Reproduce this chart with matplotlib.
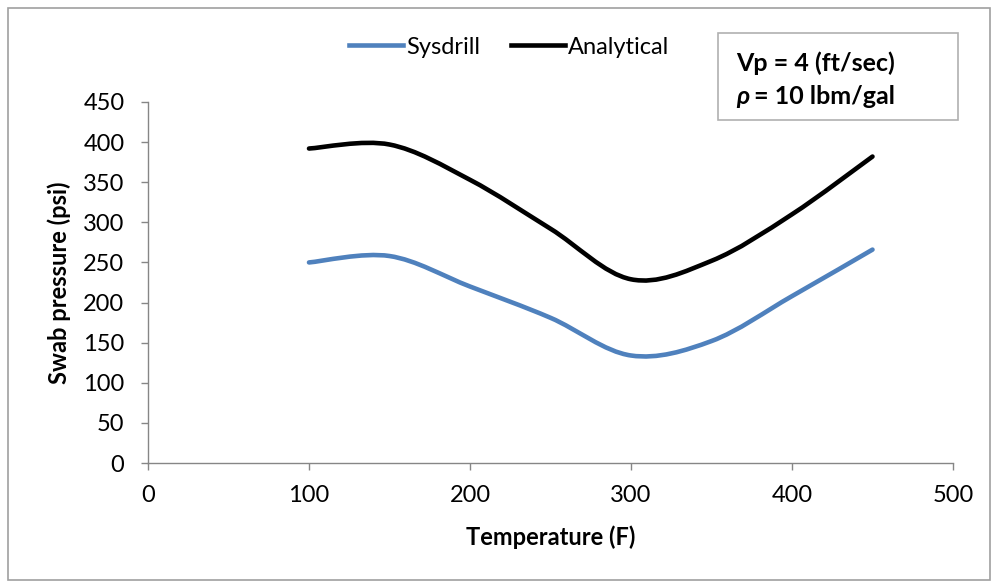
import matplotlib
matplotlib.use("Agg")
import matplotlib.pyplot as plt
from matplotlib.path import Path
from matplotlib.patches import PathPatch, Rectangle
from matplotlib.lines import Line2D
import numpy as np

plt.rcParams['font.family'] = ['Lato', 'DejaVu Sans']

temps = [100, 150, 200, 250, 300, 350, 400, 450]
sysdrill = [250, 258, 220, 181, 134, 152, 208, 266]
analytical = [392, 397, 353, 292, 229, 252, 310, 382]
x_ticks = [0, 100, 200, 300, 400, 500]
y_ticks = [0, 50, 100, 150, 200, 250, 300, 350, 400, 450]

BLUE = '#4F81BD'
GRAY = '#868686'
FS = 17


def smooth_path(xs, ys):
    p = np.column_stack([xs, ys]).astype(float)
    n = len(p)
    verts = [p[0]]
    codes = [Path.MOVETO]
    for i in range(n - 1):
        p0 = p[i - 1] if i > 0 else p[i]
        p1 = p[i]
        p2 = p[i + 1]
        p3 = p[i + 2] if i + 2 < n else p[i + 1]
        c1 = p1 + (p2 - p0) / 6.0
        c2 = p2 - (p3 - p1) / 6.0
        verts += [c1, c2, p2]
        codes += [Path.CURVE4] * 3
    return Path(verts, codes)


fig = plt.figure(figsize=(9.92, 5.83), dpi=100)
fig.patches.append(Rectangle((8 / 992, 3 / 583), 982 / 992, 572 / 583,
                             transform=fig.transFigure, fill=False,
                             edgecolor='#A0A0A0', linewidth=1.2))

ax = fig.add_axes([148 / 992, 1 - 463 / 583, 805 / 992, 361 / 583])
ax.set_xlim(0, 500)
ax.set_ylim(0, 450)

for ys, col in [(sysdrill, BLUE), (analytical, 'black')]:
    ax.add_patch(PathPatch(smooth_path(temps, ys), facecolor='none',
                           edgecolor=col, linewidth=3.3, capstyle='round'))

ax.set_xticks(x_ticks)
ax.set_yticks(y_ticks)
ax.tick_params(axis='both', direction='out', length=5, color=GRAY,
               width=1, labelsize=FS)
ax.tick_params(axis='y', pad=12)
ax.tick_params(axis='x', pad=11)
for s in ['top', 'right']:
    ax.spines[s].set_visible(False)
for s in ['left', 'bottom']:
    ax.spines[s].set_color(GRAY)
    ax.spines[s].set_linewidth(1)

ax.set_xlabel('Temperature (F)', fontsize=FS, fontweight='bold', labelpad=14)
ax.set_ylabel('Swab pressure (psi)', fontsize=FS, fontweight='bold', labelpad=9)

handles = [Line2D([], [], color=BLUE, linewidth=3.3),
           Line2D([], [], color='black', linewidth=3.3)]
fig.legend(handles, ['Sysdrill', 'Analytical'], loc='center',
           bbox_to_anchor=(509 / 992, 1 - 47 / 583), ncol=2, frameon=False,
           fontsize=FS, handlelength=2.3, handletextpad=0.12,
           columnspacing=1.3, borderpad=0)

fig.patches.append(Rectangle((718 / 992, 1 - 120 / 583), 240 / 992, 87 / 583,
                             transform=fig.transFigure, fill=True,
                             facecolor='white', edgecolor='#B0B0B0',
                             linewidth=1.2))
fig.text(736 / 992, 1 - 63 / 583, 'Vp = 4 (ft/sec)', fontsize=18,
         fontweight='bold', va='center', ha='left')
fig.text(736 / 992, 1 - 97 / 583, 'ρ', fontsize=18, fontweight='bold',
         fontstyle='italic', va='center', ha='left')
fig.text(754 / 992, 1 - 97 / 583, '= 10 lbm/gal', fontsize=18,
         fontweight='bold', va='center', ha='left')

fig.savefig('out.png', dpi=100)
